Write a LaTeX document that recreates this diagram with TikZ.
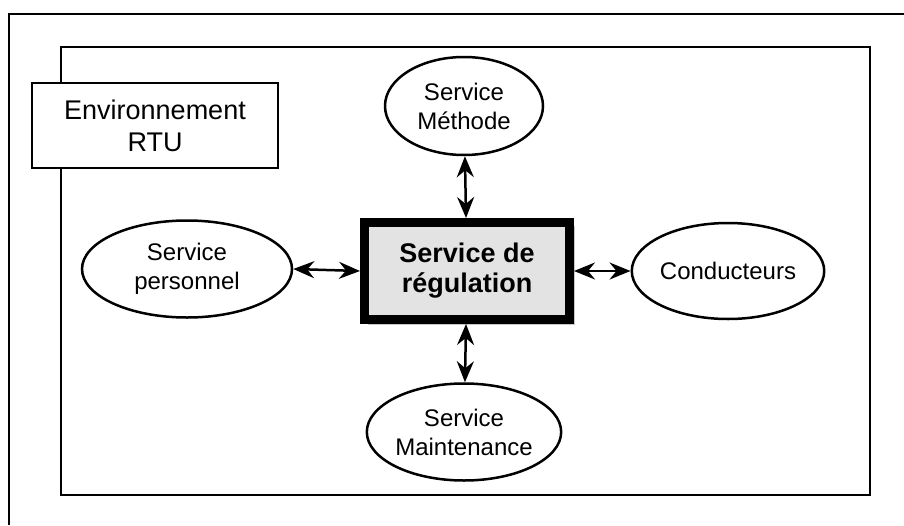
\documentclass[tikz,border=0pt]{standalone}
\usepackage{fontspec}
\setmainfont{Liberation Sans}
\usetikzlibrary{shapes.geometric,arrows.meta,shadows}

\tikzset{
  service/.style={draw, ellipse, line width=2.5pt, inner sep=0pt, align=center,
    font=\fontsize{24}{29}\selectfont},
  link/.style={{Stealth[length=21pt,width=17pt,inset=7pt]}-{Stealth[length=21pt,width=17pt,inset=7pt]},
    line width=2.5pt},
}

\begin{document}
\begin{tikzpicture}[x=1pt,y=-1pt]
    \useasboundingbox (0,0) rectangle (904,525);
    % frames
    \draw[line width=2.2pt] (9,525) -- (9,14) -- (904,14);
    \draw[line width=1.6pt] (61,47) rectangle (870,495);

    \node[draw, fill=white, line width=1.4pt, minimum width=246pt, minimum height=85pt,
      inner sep=0pt, align=center, font=\fontsize{27}{32}\selectfont]
      (E) at (155,125.5) {Environnement\\RTU};

    % centre
    \node[draw, line width=7pt, fill=gray!22, minimum width=207pt, minimum height=99pt,
      inner sep=0pt, align=center, font=\fontsize{27}{30}\selectfont\bfseries,
      drop shadow={shadow xshift=4pt, shadow yshift=-4pt, fill=gray!45, opacity=1}]
      (R) at (467,271) {Service de\\régulation};
    \draw[line width=1.6pt] ([shift={(8pt,-8pt)}]R.north west) rectangle ([shift={(-8pt,8pt)}]R.south east);

    \node[service, minimum width=158pt, minimum height=98pt] (M) at (464,106) {Service\\Méthode};
    \node[service, minimum width=210pt, minimum height=97pt] (P) at (187,269) {Service\\personnel};
    \node[service, minimum width=180pt, minimum height=96pt] (C) at (728,271) {Conducteurs};
    \node[service, minimum width=168pt, minimum height=97pt] (T) at (464,432) {Service\\Maintenance};

    \draw[link] (M) -- (R);
    \draw[link] (P.east) -- (R.west);
    \draw[link] (R.east) -- (C.west);
    \draw[link] (R) -- (T);
\end{tikzpicture}
\end{document}
